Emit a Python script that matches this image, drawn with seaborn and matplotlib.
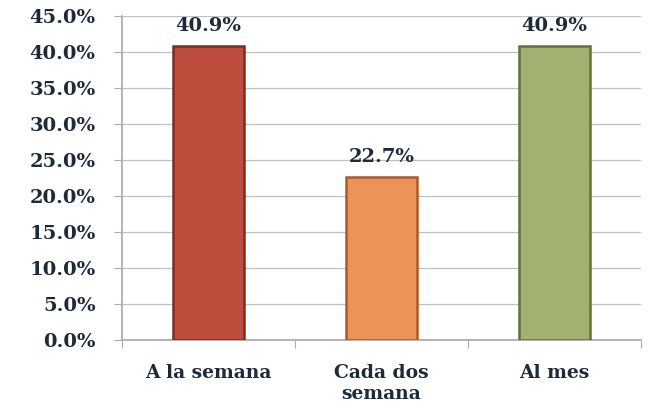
import matplotlib
matplotlib.use("Agg")
import matplotlib.pyplot as plt
import seaborn as sns
import pandas as pd
from matplotlib.ticker import FuncFormatter, FixedLocator

categories = ["A la semana", "Cada dos\nsemana", "Al mes"]
values = [40.9, 22.7, 40.9]
labels = ["40.9%", "22.7%", "40.9%"]
colors = ["#bd4e3d", "#ec9457", "#a2b071"]
edges = ["#7e2c20", "#ad5a2a", "#62703a"]

df = pd.DataFrame({"cat": categories, "val": values})

sns.set_theme(style="white")
plt.rcParams["font.family"] = ["DejaVu Serif", "Liberation Serif"]

fig = plt.figure(figsize=(6.48, 4.09), dpi=100)
ax = fig.add_axes([122/648, 1 - 340/409, (641-122)/648, (340-16)/409])

sns.barplot(data=df, x="cat", y="val", hue="cat", palette=colors, legend=False,
            width=0.41, ax=ax, saturation=1)
for p, ec in zip(ax.patches, edges):
    p.set_edgecolor(ec)
    p.set_linewidth(1.8)
    p.set_zorder(3)

ax.set_ylim(0, 45)
ax.set_xlim(-0.5, 2.5)
ax.yaxis.set_major_locator(FixedLocator([i * 5 for i in range(10)]))
ax.yaxis.set_major_formatter(FuncFormatter(lambda v, _: f"{v:.1f}%"))
ax.grid(axis="y", color="#c0c0c0", linewidth=0.9, zorder=0)
ax.set_axisbelow(True)

for i, (v, t) in enumerate(zip(values, labels)):
    ax.text(i, v + 1.4, t, ha="center", va="bottom", fontsize=14,
            fontweight="bold", color="#1c2a3a")

ax.set_xlabel("")
ax.set_ylabel("")
for s in ["top", "right"]:
    ax.spines[s].set_visible(False)
ax.spines["left"].set_color("#aaaaaa")
ax.spines["bottom"].set_color("#aaaaaa")
ax.tick_params(axis="y", labelsize=14, colors="#aaaaaa", labelcolor="#1c2a3a",
               length=6, width=0.8, direction="out", left=True, pad=13)
for lab in ax.get_yticklabels():
    lab.set_fontweight("bold")
ax.tick_params(axis="x", labelsize=13.5, labelcolor="#1c2a3a", bottom=False, pad=11)
for lab in ax.get_xticklabels():
    lab.set_fontweight("bold")
    lab.set_linespacing(1.25)
ax.set_xticks([-0.5, 0.5, 1.5, 2.5], minor=True)
ax.tick_params(axis="x", which="minor", bottom=True, length=6, color="#aaaaaa", width=0.8)

fig.savefig("out.png", dpi=100)
